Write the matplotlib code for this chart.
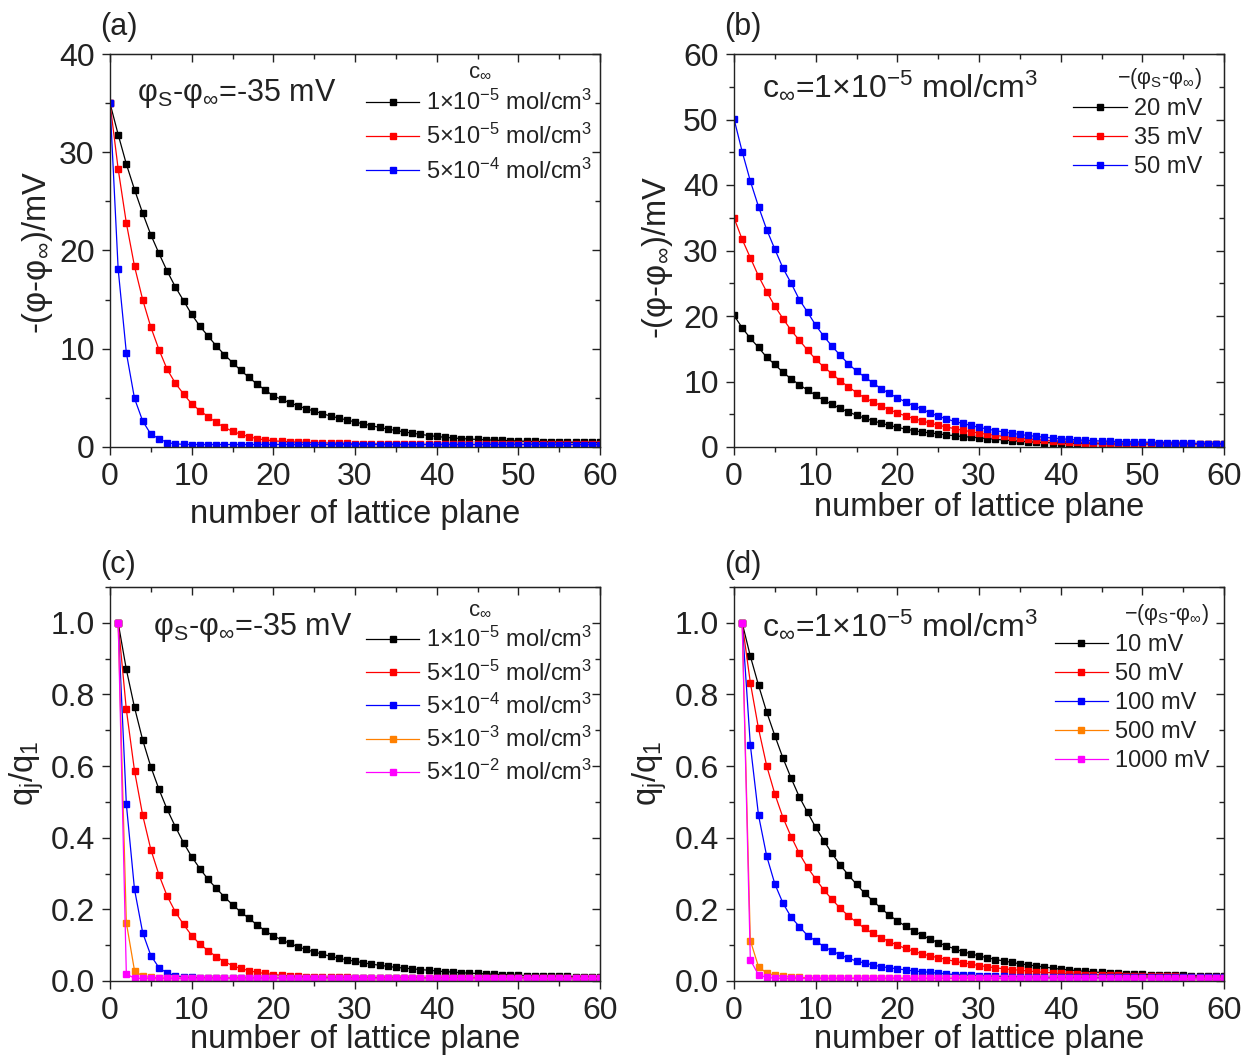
import numpy as np
import matplotlib
matplotlib.use("Agg")
import matplotlib.pyplot as plt
from matplotlib.ticker import MultipleLocator

plt.rcParams['font.family'] = ['Liberation Sans', 'DejaVu Sans']
plt.rcParams['mathtext.default'] = 'regular'

# ---------------- data ----------------
# panel (a): phi_s - phi_inf = -35 mV, various bulk concentrations, planes 0..60
a_labels = ["1×10$^{-5}$ mol/cm$^3$", "5×10$^{-5}$ mol/cm$^3$", "5×10$^{-4}$ mol/cm$^3$"]
a_black = [35.0, 31.8, 28.8, 26.2, 23.8, 21.6, 19.7, 17.9, 16.3, 14.9,
           13.5, 12.3, 11.3, 10.3, 9.4, 8.6, 7.8, 7.1, 6.4, 5.8,
           5.2, 4.85, 4.5, 4.2, 3.9, 3.65, 3.4, 3.15, 2.95, 2.75,
           2.55, 2.35, 2.17, 2.0, 1.83, 1.68, 1.54, 1.41, 1.29, 1.17,
           1.07, 0.99, 0.92, 0.86, 0.81, 0.77, 0.73, 0.7, 0.67, 0.64,
           0.61, 0.58, 0.56, 0.54, 0.52, 0.5, 0.49, 0.48, 0.47, 0.47, 0.46]
a_red = [35.0, 28.3, 22.8, 18.4, 15.0, 12.2, 9.9, 7.9, 6.5, 5.4,
         4.4, 3.7, 3.1, 2.5, 2.0, 1.6, 1.3, 1.05, 0.85, 0.72,
         0.63, 0.57, 0.53, 0.5, 0.47, 0.44, 0.42, 0.4, 0.38, 0.36,
         0.34, 0.33, 0.32, 0.31, 0.3, 0.29, 0.28, 0.28, 0.27, 0.27,
         0.27, 0.26, 0.26, 0.26, 0.26, 0.26, 0.26, 0.26, 0.26, 0.26,
         0.26, 0.26, 0.26, 0.26, 0.26, 0.26, 0.26, 0.26, 0.26, 0.26, 0.26]
a_blue = [35.0, 18.1, 9.6, 4.95, 2.65, 1.3, 0.85, 0.45, 0.32, 0.27,
          0.25, 0.25, 0.25, 0.25, 0.25, 0.25, 0.25, 0.25, 0.25, 0.25,
          0.25, 0.25, 0.25, 0.25, 0.25, 0.25, 0.25, 0.25, 0.25, 0.25,
          0.25, 0.25, 0.25, 0.25, 0.25, 0.25, 0.25, 0.25, 0.25, 0.25,
          0.25, 0.25, 0.25, 0.25, 0.25, 0.25, 0.25, 0.25, 0.25, 0.25,
          0.25, 0.25, 0.25, 0.25, 0.25, 0.25, 0.25, 0.25, 0.25, 0.25, 0.25]

# panel (b): c_inf = 1e-5 mol/cm3, various surface potentials, planes 0..60
b_labels = ["20 mV", "35 mV", "50 mV"]
b_black = [20.1, 18.2, 16.6, 15.2, 13.7, 12.6, 11.4, 10.4, 9.5, 8.7,
           7.9, 7.1, 6.5, 5.9, 5.35, 4.85, 4.4, 4.0, 3.65, 3.3,
           3.0, 2.75, 2.5, 2.3, 2.15, 2.0, 1.85, 1.72, 1.6, 1.5,
           1.4, 1.28, 1.17, 1.07, 0.97, 0.88, 0.8, 0.73, 0.68, 0.63,
           0.6, 0.57, 0.55, 0.53, 0.51, 0.5, 0.49, 0.48, 0.47, 0.47,
           0.46, 0.46, 0.46, 0.45, 0.45, 0.45, 0.45, 0.45, 0.45, 0.45, 0.45]
b_red = [35.0, 31.7, 28.9, 26.1, 23.7, 21.5, 19.6, 17.8, 16.3, 14.8,
         13.4, 12.2, 11.2, 10.1, 9.2, 8.3, 7.5, 6.9, 6.3, 5.7,
         5.2, 4.75, 4.35, 4.0, 3.65, 3.35, 3.05, 2.8, 2.55, 2.35,
         2.1, 1.93, 1.77, 1.62, 1.48, 1.35, 1.23, 1.12, 1.02, 0.93,
         0.85, 0.78, 0.72, 0.66, 0.61, 0.57, 0.54, 0.52, 0.5, 0.49,
         0.48, 0.47, 0.47, 0.46, 0.46, 0.46, 0.45, 0.45, 0.45, 0.45, 0.45]
b_blue = [50.1, 45.1, 40.6, 36.7, 33.2, 30.2, 27.3, 25.0, 22.5, 20.6,
          18.6, 16.9, 15.4, 14.0, 12.7, 11.6, 10.7, 9.8, 8.9, 8.2,
          7.5, 6.9, 6.3, 5.8, 5.2, 4.7, 4.3, 3.9, 3.6, 3.3,
          3.0, 2.75, 2.5, 2.3, 2.1, 1.92, 1.76, 1.62, 1.49, 1.37,
          1.26, 1.17, 1.09, 1.02, 0.96, 0.91, 0.87, 0.83, 0.8, 0.77,
          0.74, 0.71, 0.68, 0.65, 0.62, 0.59, 0.56, 0.53, 0.5, 0.48, 0.46]

# panel (c): q_j/q_1, phi_s - phi_inf = -35 mV, various concentrations, planes 1..60
c_labels = ["1×10$^{-5}$ mol/cm$^3$", "5×10$^{-5}$ mol/cm$^3$", "5×10$^{-4}$ mol/cm$^3$",
            "5×10$^{-3}$ mol/cm$^3$", "5×10$^{-2}$ mol/cm$^3$"]
c_black = [1.0, 0.87, 0.764, 0.673, 0.598, 0.535, 0.479, 0.431, 0.386, 0.347,
           0.314, 0.284, 0.259, 0.235, 0.213, 0.193, 0.175, 0.157, 0.14, 0.126,
           0.115, 0.105, 0.096, 0.088, 0.081, 0.075, 0.069, 0.064, 0.059, 0.055,
           0.051, 0.047, 0.044, 0.041, 0.038, 0.036, 0.034, 0.032, 0.03, 0.028,
           0.026, 0.025, 0.023, 0.022, 0.021, 0.02, 0.019, 0.018, 0.017, 0.016,
           0.015, 0.015, 0.014, 0.014, 0.013, 0.013, 0.012, 0.012, 0.012, 0.012]
c_red = [1.0, 0.758, 0.587, 0.463, 0.367, 0.296, 0.237, 0.193, 0.158, 0.127,
         0.103, 0.085, 0.068, 0.054, 0.043, 0.035, 0.029, 0.024, 0.021, 0.018,
         0.016, 0.014, 0.013, 0.012, 0.011, 0.011, 0.01, 0.01, 0.01, 0.009,
         0.009, 0.009, 0.009, 0.009, 0.009, 0.009, 0.008, 0.008, 0.008, 0.008,
         0.008, 0.008, 0.008, 0.008, 0.008, 0.008, 0.008, 0.008, 0.008, 0.008,
         0.008, 0.008, 0.008, 0.008, 0.008, 0.008, 0.008, 0.008, 0.008, 0.008]
c_blue = [1.0, 0.494, 0.256, 0.135, 0.071, 0.037, 0.022, 0.015, 0.011, 0.01,
          0.009, 0.009, 0.008, 0.008, 0.008, 0.008, 0.008, 0.008, 0.008, 0.008,
          0.008, 0.008, 0.008, 0.008, 0.008, 0.008, 0.008, 0.008, 0.008, 0.008,
          0.008, 0.008, 0.008, 0.008, 0.008, 0.008, 0.008, 0.008, 0.008, 0.008,
          0.008, 0.008, 0.008, 0.008, 0.008, 0.008, 0.008, 0.008, 0.008, 0.008,
          0.008, 0.008, 0.008, 0.008, 0.008, 0.008, 0.008, 0.008, 0.008, 0.008]
c_orange = [1.0, 0.163, 0.029, 0.013, 0.01, 0.009, 0.008, 0.008, 0.008, 0.008,
            0.008, 0.008, 0.008, 0.008, 0.008, 0.008, 0.008, 0.008, 0.008, 0.008,
            0.008, 0.008, 0.008, 0.008, 0.008, 0.008, 0.008, 0.008, 0.008, 0.008,
            0.008, 0.008, 0.008, 0.008, 0.008, 0.008, 0.008, 0.008, 0.008, 0.008,
            0.008, 0.008, 0.008, 0.008, 0.008, 0.008, 0.008, 0.008, 0.008, 0.008,
            0.008, 0.008, 0.008, 0.008, 0.008, 0.008, 0.008, 0.008, 0.008, 0.008]
c_pink = [1.0, 0.019, 0.008, 0.007, 0.007, 0.007, 0.007, 0.007, 0.007, 0.007,
          0.007, 0.007, 0.007, 0.007, 0.007, 0.007, 0.007, 0.007, 0.007, 0.007,
          0.007, 0.007, 0.007, 0.007, 0.007, 0.007, 0.007, 0.007, 0.007, 0.007,
          0.007, 0.007, 0.007, 0.007, 0.007, 0.007, 0.007, 0.007, 0.007, 0.007,
          0.007, 0.007, 0.007, 0.007, 0.007, 0.007, 0.007, 0.007, 0.007, 0.007,
          0.007, 0.007, 0.007, 0.007, 0.007, 0.007, 0.007, 0.007, 0.007, 0.007]

# panel (d): q_j/q_1, c_inf = 1e-5 mol/cm3, various surface potentials, planes 1..60
d_labels = ["10 mV", "50 mV", "100 mV", "500 mV", "1000 mV"]
d_black = [1.0, 0.907, 0.826, 0.751, 0.685, 0.622, 0.566, 0.514, 0.471, 0.429,
           0.392, 0.356, 0.324, 0.296, 0.27, 0.245, 0.224, 0.203, 0.184, 0.168,
           0.153, 0.14, 0.128, 0.117, 0.107, 0.098, 0.09, 0.082, 0.076, 0.07,
           0.065, 0.06, 0.056, 0.052, 0.048, 0.045, 0.042, 0.039, 0.036, 0.033,
           0.031, 0.029, 0.027, 0.025, 0.024, 0.023, 0.021, 0.02, 0.019, 0.019,
           0.018, 0.017, 0.017, 0.016, 0.016, 0.015, 0.015, 0.014, 0.014, 0.014]
d_red = [1.0, 0.833, 0.705, 0.601, 0.522, 0.456, 0.403, 0.356, 0.317, 0.285,
         0.254, 0.228, 0.203, 0.182, 0.164, 0.147, 0.133, 0.121, 0.11, 0.1,
         0.091, 0.083, 0.076, 0.07, 0.065, 0.06, 0.055, 0.051, 0.047, 0.043,
         0.04, 0.037, 0.034, 0.032, 0.03, 0.028, 0.026, 0.024, 0.023, 0.021,
         0.02, 0.019, 0.018, 0.018, 0.017, 0.016, 0.016, 0.015, 0.015, 0.014,
         0.014, 0.013, 0.013, 0.013, 0.012, 0.012, 0.012, 0.012, 0.012, 0.012]
d_blue = [1.0, 0.659, 0.463, 0.349, 0.271, 0.217, 0.178, 0.152, 0.127, 0.112,
          0.096, 0.084, 0.073, 0.063, 0.056, 0.05, 0.045, 0.04, 0.037, 0.034,
          0.031, 0.028, 0.026, 0.024, 0.022, 0.02, 0.018, 0.017, 0.016, 0.015,
          0.014, 0.013, 0.013, 0.012, 0.012, 0.011, 0.011, 0.011, 0.01, 0.01,
          0.01, 0.01, 0.01, 0.01, 0.01, 0.01, 0.01, 0.01, 0.01, 0.01,
          0.01, 0.01, 0.01, 0.01, 0.01, 0.01, 0.01, 0.01, 0.01, 0.01]
d_orange = [1.0, 0.113, 0.04, 0.022, 0.016, 0.013, 0.011, 0.01, 0.009, 0.009,
            0.008, 0.008, 0.008, 0.008, 0.008, 0.008, 0.008, 0.008, 0.008, 0.008,
            0.008, 0.008, 0.008, 0.008, 0.008, 0.008, 0.008, 0.008, 0.008, 0.008,
            0.008, 0.008, 0.008, 0.008, 0.008, 0.008, 0.008, 0.008, 0.008, 0.008,
            0.008, 0.008, 0.008, 0.008, 0.008, 0.008, 0.008, 0.008, 0.008, 0.008,
            0.008, 0.008, 0.008, 0.008, 0.008, 0.008, 0.008, 0.008, 0.008, 0.008]
d_pink = [1.0, 0.059, 0.017, 0.01, 0.008, 0.007, 0.007, 0.007, 0.007, 0.007,
          0.007, 0.007, 0.007, 0.007, 0.007, 0.007, 0.007, 0.007, 0.007, 0.007,
          0.007, 0.007, 0.007, 0.007, 0.007, 0.007, 0.007, 0.007, 0.007, 0.007,
          0.007, 0.007, 0.007, 0.007, 0.007, 0.007, 0.007, 0.007, 0.007, 0.007,
          0.007, 0.007, 0.007, 0.007, 0.007, 0.007, 0.007, 0.007, 0.007, 0.007,
          0.007, 0.007, 0.007, 0.007, 0.007, 0.007, 0.007, 0.007, 0.007, 0.007]

colors3 = ["#000000", "#FF0000", "#0000FF"]
colors5 = ["#000000", "#FF0000", "#0000FF", "#FF8000", "#FF00FF"]

TXT = '#222222'
TICK_FS = 23
LABEL_FS = 23.5

# ---------------- figure ----------------
W, H = 1258, 1063
fig = plt.figure(figsize=(W / 100, H / 100), dpi=100)


def px_axes(l, t, r, b):
    return fig.add_axes([l / W, 1 - b / H, (r - l) / W, (b - t) / H])


def style_axes(ax, ymax, ymajor, yminor, yfmt):
    ax.set_xlim(0, 60)
    ax.set_ylim(0, ymax)
    ax.xaxis.set_major_locator(MultipleLocator(10))
    ax.xaxis.set_minor_locator(MultipleLocator(5))
    ax.yaxis.set_major_locator(MultipleLocator(ymajor))
    ax.yaxis.set_minor_locator(MultipleLocator(yminor))
    if yfmt:
        ax.yaxis.set_major_formatter(yfmt)
    ax.tick_params(which='both', direction='out', labelsize=TICK_FS, width=1,
                   pad=5, colors=TXT)
    ax.tick_params(which='major', length=6)
    ax.tick_params(which='minor', length=3.6)
    for s in ax.spines.values():
        s.set_linewidth(1.0)
        s.set_color(TXT)
    top = ax.secondary_xaxis('top')
    top.xaxis.set_major_locator(MultipleLocator(10))
    top.xaxis.set_minor_locator(MultipleLocator(5))
    top.tick_params(which='both', direction='in', labeltop=False, width=1, colors=TXT)
    top.tick_params(which='major', length=6)
    top.tick_params(which='minor', length=3.6)
    right = ax.secondary_yaxis('right')
    right.yaxis.set_major_locator(MultipleLocator(ymajor))
    right.yaxis.set_minor_locator(MultipleLocator(yminor))
    right.tick_params(which='both', direction='in', labelright=False, width=1, colors=TXT)
    right.tick_params(which='major', length=6)
    right.tick_params(which='minor', length=3.6)


def draw(ax, x0, series, labels, colors):
    for ys, lab, c in zip(series, labels, colors):
        xs = np.arange(x0, x0 + len(ys))
        ax.plot(xs, ys, '-', color=c, lw=0.9, marker='s', ms=4.3,
                mec=c, mfc=c, label=lab)


axA = px_axes(110, 54, 600, 447)
axB = px_axes(734, 54, 1224, 447)
axC = px_axes(110, 587, 600, 981)
axD = px_axes(734, 587, 1224, 981)

style_axes(axA, 40, 10, 5, None)
style_axes(axB, 60, 10, 5, None)
fmt1 = matplotlib.ticker.FormatStrFormatter('%.1f')
style_axes(axC, 1.1, 0.2, 0.1, fmt1)
style_axes(axD, 1.1, 0.2, 0.1, fmt1)

draw(axA, 0, [a_black, a_red, a_blue], a_labels, colors3)
draw(axB, 0, [b_black, b_red, b_blue], b_labels, colors3)
draw(axC, 1, [c_black, c_red, c_blue, c_orange, c_pink], c_labels, colors5)
draw(axD, 1, [d_black, d_red, d_blue, d_orange, d_pink], d_labels, colors5)

# axis labels
xl = "number of lattice plane"
for ax, ylab_y in [(axA, -0.132), (axB, -0.114), (axC, -0.11), (axD, -0.11)]:
    ax.set_xlabel(xl, fontsize=LABEL_FS, color=TXT)
    ax.xaxis.set_label_coords(0.5, ylab_y)
axA.set_ylabel("-(φ-φ$_∞$)/mV", fontsize=LABEL_FS, color=TXT)
axA.yaxis.set_label_coords(-0.112, 0.496)
axB.set_ylabel("-(φ-φ$_∞$)/mV", fontsize=LABEL_FS, color=TXT)
axB.yaxis.set_label_coords(-0.12, 0.483)
axC.set_ylabel("q$_j$/q$_1$", fontsize=LABEL_FS, color=TXT)
axC.yaxis.set_label_coords(-0.13, 0.528)
axD.set_ylabel("q$_j$/q$_1$", fontsize=LABEL_FS, color=TXT)
axD.yaxis.set_label_coords(-0.132, 0.528)

# panel letters
for lab, x, y in [("(a)", 100, 27), ("(b)", 724, 27), ("(c)", 100, 565), ("(d)", 724, 565)]:
    fig.text(x / W, 1 - y / H, lab, fontsize=22, ha='left', va='center', color=TXT)

# annotations
fig.text(137 / W, 1 - 101 / H, "φ$_S$-φ$_∞$=-35 mV", fontsize=22, ha='left', va='baseline', color=TXT)
fig.text(762 / W, 1 - 96 / H, "c$_∞$=1×10$^{-5}$ mol/cm$^3$", fontsize=23, ha='left', va='baseline', color=TXT)
fig.text(153 / W, 1 - 635 / H, "φ$_S$-φ$_∞$=-35 mV", fontsize=22, ha='left', va='baseline', color=TXT)
fig.text(762 / W, 1 - 635 / H, "c$_∞$=1×10$^{-5}$ mol/cm$^3$", fontsize=23, ha='left', va='baseline', color=TXT)


# legends
def make_legend(ax, title, fs, tfs, spacing, align, anchor):
    leg = ax.legend(title=title, fontsize=fs, title_fontsize=tfs, frameon=False,
                    loc='upper right', bbox_to_anchor=anchor, handlelength=2.25,
                    handletextpad=0.3, labelspacing=spacing, borderaxespad=0,
                    borderpad=0, alignment=align)
    for t in leg.get_texts():
        t.set_color(TXT)
    leg.get_title().set_color(TXT)
    return leg


make_legend(axA, "c$_∞$", 17, 16, 0.38, 'center', (0.985, 0.985))
make_legend(axB, "−(φ$_S$-φ$_∞$)", 17, 15.5, 0.3, 'right', (0.955, 0.97))
make_legend(axC, "c$_∞$", 17, 16, 0.34, 'center', (0.985, 0.972))
make_legend(axD, "−(φ$_S$-φ$_∞$)", 17, 15.5, 0.3, 'right', (0.97, 0.962))

fig.savefig("out.png", dpi=100)
